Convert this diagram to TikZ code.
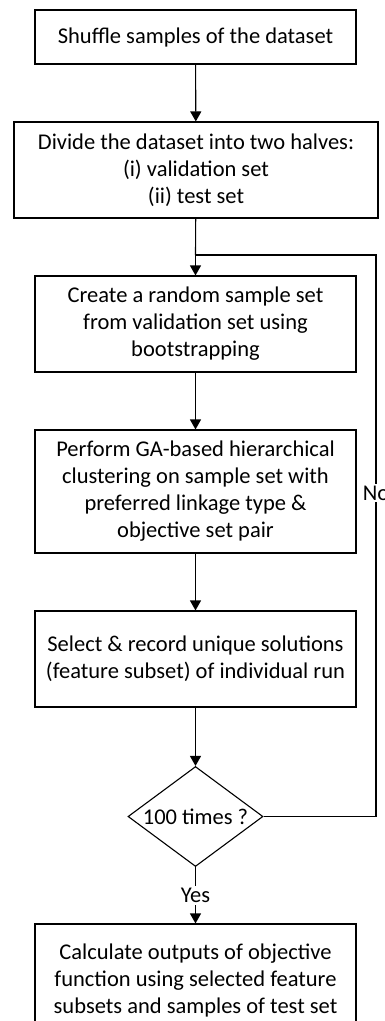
\documentclass[tikz,border=0pt]{standalone}
\usepackage{fontspec}
\setmainfont{Carlito}
\usetikzlibrary{shapes, arrows.meta, positioning, calc}

\tikzset{
  stepbox/.style={draw, line width=1.1pt, fill=white, align=center, inner sep=4pt,
    font=\fontsize{22.5}{27}\selectfont},
  decision/.style={draw, line width=1.1pt, diamond, fill=white, inner sep=0pt,
    minimum width=135pt, minimum height=100pt,
    label={[font=\fontsize{22.5}{27}\selectfont]center:#1}},
  flow/.style={line width=1.1pt, -{Triangle[length=10pt, width=11pt]}},
  link/.style={line width=1.1pt},
  tag/.style={fill=white, inner sep=2pt, font=\fontsize{22.5}{27}\selectfont}
}

\begin{document}
\begin{tikzpicture}[x=1pt, y=-1pt]
  \useasboundingbox (0,0) rectangle (385,1021);

  % steps of the flow
  \node[stepbox, minimum width=321pt, minimum height=54pt] (shuffle) at (195.5,37) {Shuffle samples of the dataset};
  \node[stepbox, minimum width=364pt, minimum height=96pt] (divide) at (196,170) {Divide the dataset into two halves:\\(i) validation set\\(ii) test set};
  \node[stepbox, minimum width=321pt, minimum height=96pt] (boot) at (195.5,324) {Create a random sample set\\from validation set using\\bootstrapping};
  \node[stepbox, minimum width=321pt, minimum height=123pt] (cluster) at (195.5,491.5) {Perform GA-based hierarchical\\clustering on sample set with\\preferred linkage type \&\\objective set pair};
  \node[stepbox, minimum width=321pt, minimum height=96pt] (record) at (195.5,659) {Select \& record unique solutions\\(feature subset) of individual run};
  \node[decision={100 times ?}] (times) at (195.5,816.5) {};
  \node[stepbox, minimum width=321pt, minimum height=112pt] (calc) at (195.5,980) {Calculate outputs of objective\\function using selected feature\\subsets and samples of test set};

  % loop back points
  \coordinate (join) at (195.5,255);
  \coordinate (back) at (376,255);
  \coordinate (turn) at (376,816.5);

  \draw[flow] (shuffle) -- (divide);
  \draw[link] (divide) -- (join);
  \draw[flow] (join) -- (boot);
  \draw[flow] (boot) -- (cluster);
  \draw[flow] (cluster) -- (record);
  \draw[flow] (record) -- (times);
  \draw[flow] (times) -- node[tag] {Yes} (calc);
  \draw[link] (times.east) -- (turn) -- node[tag, pos=0.576] {No} (back) -- (join);
\end{tikzpicture}
\end{document}
